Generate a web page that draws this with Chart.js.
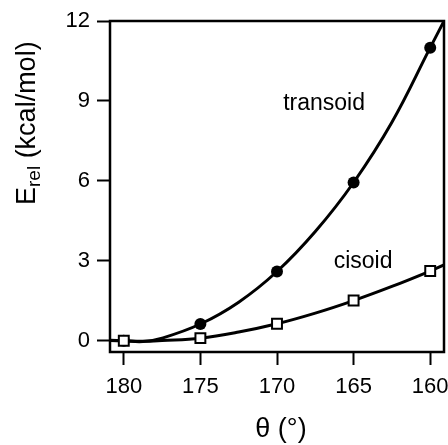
<!DOCTYPE html>
<html>
<head>
<meta charset="utf-8">
<script src="https://cdn.jsdelivr.net/npm/chart.js@4.4.0/dist/chart.umd.min.js"></script>
<style>
  html, body { margin: 0; padding: 0; background: #fff; }
  #wrap { width: 448px; height: 445px; }
</style>
</head>
<body>
<div id="wrap"><canvas id="myChart" width="448" height="445"></canvas></div>
<script>
// measured points
const theta = [180, 175, 170, 165, 160];
const transoid = [0, 0.63, 2.6, 5.94, 11.0];
const cisoid = [0, 0.1, 0.64, 1.51, 2.62];

// fitted curves
const curveTheta = [180.9, 180, 178.75, 177.5, 175, 172.5, 170, 167.5, 165, 162.5, 160, 159.1];
const transoidCurve = [0.02, 0, -0.03, 0.1, 0.63, 1.45, 2.6, 4.1, 5.94, 8.2, 11.0, 12.0];
const cisoidCurve = [0.01, 0, -0.02, 0.01, 0.1, 0.33, 0.64, 1.04, 1.51, 2.04, 2.62, 2.85];

const xTicks = [180, 175, 170, 165, 160];
const yTicks = [0, 3, 6, 9, 12];

const FONT = '"Liberation Sans", Arial, Helvetica, sans-serif';

const pts = (xs, ys) => xs.map((x, i) => ({ x: x, y: ys[i] }));

const boxAndText = {
    id: 'boxAndText',
    afterDatasetsDraw(chart) {
        const c = chart.ctx;
        const a = chart.chartArea;
        const sx = chart.scales.x, sy = chart.scales.y;
        c.save();
        c.strokeStyle = '#000';
        c.lineWidth = 2.5;
        c.strokeRect(a.left, a.top, a.right - a.left, a.bottom - a.top);

        c.fillStyle = '#000';
        c.font = '23px ' + FONT;
        c.textBaseline = 'alphabetic';
        c.textAlign = 'left';
        c.fillText('transoid', sx.getPixelForValue(169.6), sy.getPixelForValue(8.66));
        c.fillText('cisoid', sx.getPixelForValue(166.3), sy.getPixelForValue(2.74));

        // x title
        c.font = '27px ' + FONT;
        c.textAlign = 'center';
        c.fillText('θ (°)', 281, 437);

        // y title with subscript
        c.translate(35, 205);
        c.rotate(-Math.PI / 2);
        c.textAlign = 'left';
        c.font = '27px ' + FONT;
        c.fillText('E', 0, 0);
        let w = c.measureText('E').width;
        c.font = '19px ' + FONT;
        c.fillText('rel', w, 5);
        w += c.measureText('rel').width;
        c.font = '27px ' + FONT;
        c.fillText(' (kcal/mol)', w, 0);
        c.restore();
    }
};

const ctx = document.getElementById('myChart').getContext('2d');
const myChart = new Chart(ctx, {
    type: 'scatter',
    data: {
        datasets: [{
            label: 'cisoid',
            data: pts(theta, cisoid),
            pointStyle: 'rect',
            pointRadius: 7,
            backgroundColor: '#fff',
            borderColor: '#000',
            borderWidth: 2,
            showLine: false,
            order: 0
        }, {
            label: 'transoid',
            data: pts(theta, transoid),
            pointStyle: 'circle',
            pointRadius: 6,
            backgroundColor: '#000',
            borderColor: '#000',
            borderWidth: 0,
            showLine: false,
            order: 1
        }, {
            label: 'transoid fit',
            data: pts(curveTheta, transoidCurve),
            showLine: true,
            pointRadius: 0,
            borderColor: '#000',
            borderWidth: 3,
            tension: 0.4,
            order: 2
        }, {
            label: 'cisoid fit',
            data: pts(curveTheta, cisoidCurve),
            showLine: true,
            pointRadius: 0,
            borderColor: '#000',
            borderWidth: 3,
            tension: 0.4,
            order: 3
        }]
    },
    options: {
        responsive: false,
        animation: false,
        layout: { autoPadding: false, padding: { top: 21, right: 4, left: 0, bottom: 0 } },
        plugins: {
            legend: { display: false },
            tooltip: { enabled: false }
        },
        scales: {
            x: {
                type: 'linear',
                reverse: true,
                min: 159.1,
                max: 180.9,
                afterFit: s => { s.height = 93; s.paddingLeft = 0; s.paddingRight = 0; },
                afterBuildTicks: s => { s.ticks = xTicks.map(v => ({ value: v })); },
                grid: { drawOnChartArea: false, drawTicks: true, tickLength: 13, tickColor: '#000', tickWidth: 2 },
                border: { display: true, color: '#000', width: 2 },
                ticks: { color: '#000', font: { family: FONT, size: 22 }, padding: 9, maxRotation: 0 }
            },
            y: {
                type: 'linear',
                min: -0.42,
                max: 12,
                afterFit: s => { s.width = 110; s.paddingTop = 0; s.paddingBottom = 0; },
                afterBuildTicks: s => { s.ticks = yTicks.map(v => ({ value: v })); },
                grid: { drawOnChartArea: false, drawTicks: true, tickLength: 13, tickColor: '#000', tickWidth: 2 },
                border: { display: true, color: '#000', width: 2 },
                ticks: { color: '#000', font: { family: FONT, size: 22 }, padding: 7 }
            }
        }
    },
    plugins: [boxAndText]
});
</script>
</body>
</html>
